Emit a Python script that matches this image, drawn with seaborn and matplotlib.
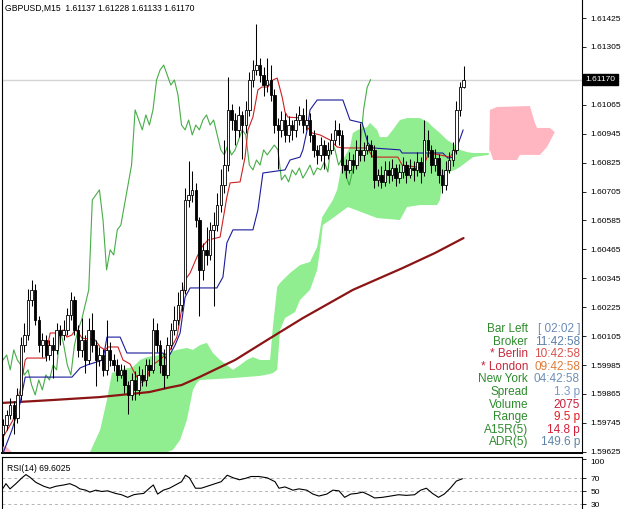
import numpy as np
import pandas as pd
import matplotlib
matplotlib.use("Agg")
import matplotlib.pyplot as plt
import matplotlib.transforms as mtransforms
import seaborn as sns

# ---------------- data ----------------
title_text = "GBPUSD,M15  1.61137 1.61228 1.61133 1.61170"
rsi_title = "RSI(14) 69.6025"
last_price = 1.61170
last_price_label = "1.61170"

opens = [1.59700, 1.59736, 1.59778, 1.59819, 1.59765, 1.59861, 1.60068, 1.60110, 1.60255, 1.60297,
         1.60172, 1.60068, 1.60089, 1.60027, 1.60068, 1.60048, 1.60131, 1.60110, 1.60131, 1.60193,
         1.60255, 1.60131, 1.60048, 1.60089, 1.60006, 1.60131, 1.60068, 1.60006, 1.60027, 1.59965,
         1.60048, 1.60006, 1.59985, 1.59944, 1.59965, 1.59902, 1.59861, 1.59923, 1.59882, 1.59944,
         1.59923, 1.59985, 1.59965, 1.60131, 1.60068, 1.59985, 1.59944, 1.60068, 1.60131, 1.60172,
         1.60234, 1.60297, 1.60670, 1.60691, 1.60712, 1.60587, 1.60380, 1.60463, 1.60442, 1.60546,
         1.60566, 1.60649, 1.60732, 1.60815, 1.61044, 1.61002, 1.60961, 1.61023, 1.60981, 1.61044,
         1.61168, 1.61210, 1.61230, 1.61189, 1.61147, 1.61168, 1.61106, 1.60981, 1.60961, 1.61002,
         1.60940, 1.60981, 1.60961, 1.61002, 1.61023, 1.60981, 1.61002, 1.60940, 1.60878, 1.60857,
         1.60898, 1.60857, 1.60878, 1.60919, 1.60961, 1.60940, 1.60815, 1.60795, 1.60836, 1.60815,
         1.60878, 1.60857, 1.60878, 1.60898, 1.60878, 1.60753, 1.60774, 1.60745, 1.60795, 1.60774,
         1.60803, 1.60761, 1.60786, 1.60815, 1.60774, 1.60803, 1.60795, 1.60828, 1.60786, 1.60919,
         1.60878, 1.60815, 1.60844, 1.60774, 1.60732, 1.60795, 1.60836, 1.60878, 1.61044, 1.61137]
highs = [1.59760, 1.59800, 1.59850, 1.59835, 1.59890, 1.60100, 1.60160, 1.60300, 1.60340, 1.60320,
         1.60190, 1.60120, 1.60110, 1.60090, 1.60100, 1.60160, 1.60150, 1.60170, 1.60220, 1.60290,
         1.60270, 1.60150, 1.60180, 1.60110, 1.60180, 1.60200, 1.60090, 1.60060, 1.60050, 1.60170,
         1.60080, 1.60030, 1.60010, 1.59990, 1.59985, 1.59920, 1.59950, 1.59960, 1.59980, 1.59970,
         1.60010, 1.60010, 1.60180, 1.60160, 1.60090, 1.60050, 1.60100, 1.60160, 1.60230, 1.60290,
         1.60330, 1.60720, 1.60830, 1.60790, 1.60740, 1.60600, 1.60490, 1.60560, 1.60580, 1.60620,
         1.60700, 1.60800, 1.60920, 1.61180, 1.61070, 1.61030, 1.61060, 1.61040, 1.61080, 1.61200,
         1.61250, 1.61400, 1.61260, 1.61220, 1.61260, 1.61230, 1.61130, 1.61010, 1.61040, 1.61030,
         1.61020, 1.61000, 1.61030, 1.61060, 1.61050, 1.61090, 1.61030, 1.60960, 1.60900, 1.60930,
         1.60920, 1.60910, 1.60950, 1.61000, 1.60990, 1.60960, 1.60840, 1.60870, 1.60860, 1.60920,
         1.60990, 1.60910, 1.60940, 1.60920, 1.60900, 1.60800, 1.60810, 1.60830, 1.60830, 1.60840,
         1.60820, 1.60820, 1.60850, 1.60830, 1.60840, 1.60830, 1.60870, 1.60850, 1.61000, 1.60960,
         1.60900, 1.60880, 1.60860, 1.60800, 1.60830, 1.60870, 1.60910, 1.61080, 1.61160, 1.61228]
lows = [1.59650, 1.59715, 1.59760, 1.59700, 1.59745, 1.59840, 1.60040, 1.60090, 1.60230, 1.60150,
        1.60040, 1.60020, 1.60000, 1.60005, 1.59930, 1.60030, 1.60070, 1.60090, 1.60110, 1.60170,
        1.60110, 1.60020, 1.60020, 1.59950, 1.59990, 1.60040, 1.59900, 1.59980, 1.59940, 1.59945,
        1.59980, 1.59960, 1.59920, 1.59930, 1.59870, 1.59780, 1.59840, 1.59840, 1.59860, 1.59900,
        1.59900, 1.59940, 1.59950, 1.60040, 1.59950, 1.59890, 1.59930, 1.60050, 1.60110, 1.60150,
        1.60210, 1.60280, 1.60640, 1.60660, 1.60560, 1.60190, 1.60340, 1.60400, 1.60420, 1.60230,
        1.60540, 1.60620, 1.60700, 1.60790, 1.60960, 1.60900, 1.60930, 1.60840, 1.60950, 1.61020,
        1.61140, 1.61190, 1.61160, 1.61100, 1.61120, 1.61080, 1.60950, 1.60800, 1.60930, 1.60910,
        1.60910, 1.60920, 1.60930, 1.60980, 1.60950, 1.60960, 1.60910, 1.60850, 1.60820, 1.60830,
        1.60800, 1.60840, 1.60860, 1.60900, 1.60900, 1.60780, 1.60760, 1.60780, 1.60780, 1.60800,
        1.60830, 1.60830, 1.60860, 1.60850, 1.60720, 1.60730, 1.60720, 1.60730, 1.60740, 1.60750,
        1.60730, 1.60740, 1.60760, 1.60740, 1.60760, 1.60750, 1.60770, 1.60740, 1.60770, 1.60850,
        1.60780, 1.60790, 1.60740, 1.60700, 1.60710, 1.60780, 1.60810, 1.60860, 1.61020, 1.61133]
closes = [1.59736, 1.59778, 1.59819, 1.59765, 1.59861, 1.60068, 1.60110, 1.60255, 1.60297, 1.60172,
          1.60068, 1.60089, 1.60027, 1.60068, 1.60048, 1.60131, 1.60110, 1.60131, 1.60193, 1.60255,
          1.60131, 1.60048, 1.60089, 1.60006, 1.60131, 1.60068, 1.60006, 1.60027, 1.59965, 1.60048,
          1.60006, 1.59985, 1.59944, 1.59965, 1.59902, 1.59861, 1.59923, 1.59882, 1.59944, 1.59923,
          1.59985, 1.59965, 1.60131, 1.60068, 1.59985, 1.59944, 1.60068, 1.60131, 1.60172, 1.60234,
          1.60297, 1.60670, 1.60691, 1.60712, 1.60587, 1.60380, 1.60463, 1.60442, 1.60546, 1.60566,
          1.60649, 1.60732, 1.60815, 1.61044, 1.61002, 1.60961, 1.61023, 1.60981, 1.61044, 1.61168,
          1.61210, 1.61230, 1.61189, 1.61147, 1.61168, 1.61106, 1.60981, 1.60961, 1.61002, 1.60940,
          1.60981, 1.60961, 1.61002, 1.61023, 1.60981, 1.61002, 1.60940, 1.60878, 1.60857, 1.60898,
          1.60857, 1.60878, 1.60919, 1.60961, 1.60940, 1.60815, 1.60795, 1.60836, 1.60815, 1.60878,
          1.60857, 1.60878, 1.60898, 1.60878, 1.60753, 1.60774, 1.60745, 1.60795, 1.60774, 1.60803,
          1.60761, 1.60786, 1.60815, 1.60774, 1.60803, 1.60795, 1.60828, 1.60786, 1.60919, 1.60878,
          1.60815, 1.60844, 1.60774, 1.60732, 1.60795, 1.60836, 1.60878, 1.61044, 1.61137, 1.61170]

chikou_shift = 26

ma_x = [0, 14, 27, 41, 46, 50, 55, 65, 74, 84, 98, 112, 121, 129]
ma_vals = [1.59828, 1.59840, 1.59852, 1.59873, 1.59890, 1.59902, 1.59935, 1.60006, 1.60089,
           1.60180, 1.60297, 1.60388, 1.60450, 1.60512]

tenkan_x = [0, 2.8, 3.9, 4.8, 6.2, 6.7, 11.8, 13.2, 14.6, 15.4, 16.8, 17.9, 19.3, 20.2, 21.0,
            22.1, 25.8, 27.2, 28.6, 29.4, 32.2, 33.6, 35.6, 36.4, 38.4, 40.3, 41.2, 43.1, 44.8,
            46.8, 48.7, 50.1, 51.0, 52.4, 54.3, 55.7, 57.4, 60.8, 62.7, 63.6, 66.4, 67.8, 68.6,
            70.0, 71.4, 72.5, 74.2, 75.6, 76.8, 78.2, 79.0, 79.8, 84.0, 85.2, 86.6, 88.8, 91.6,
            93.6, 95.2, 102.0, 103.6, 110.6, 111.8, 117.6, 118.8, 119.0, 122.4, 125.2, 127.2]
tenkan_vals = [1.59686, 1.59757, 1.59828, 1.59882, 1.60006, 1.60014, 1.60014, 1.60118, 1.60118,
               1.60097, 1.60131, 1.60101, 1.60110, 1.60131, 1.60122, 1.60097, 1.60089, 1.60060,
               1.60048, 1.60060, 1.60060, 1.60006, 1.59989, 1.59965, 1.59911, 1.59923, 1.59977,
               1.59998, 1.60018, 1.60048, 1.60101, 1.60222, 1.60338, 1.60367, 1.60433, 1.60475,
               1.60504, 1.60516, 1.60682, 1.60741, 1.60745, 1.60848, 1.60961, 1.61014, 1.61127,
               1.61139, 1.61139, 1.61168, 1.61176, 1.61097, 1.61035, 1.61014, 1.61010, 1.60973,
               1.60948, 1.60940, 1.60919, 1.60890, 1.60886, 1.60886, 1.60848, 1.60848, 1.60815,
               1.60803, 1.60848, 1.60865, 1.60857, 1.60848, 1.60890]

kijun_x = [0, 2.5, 4.8, 6.2, 19.3, 21.6, 23.5, 28.0, 29.1, 32.8, 34.7, 44.8, 45.9, 48.2, 49.6,
           51.0, 52.4, 59.9, 61.6, 62.7, 64.4, 70.0, 71.4, 72.8, 79.0, 80.4, 83.2, 84.0, 85.2,
           86.0, 88.0, 95.2, 96.4, 97.2, 100.6, 102.2, 103.6, 111.2, 111.8, 123.2, 124.6, 126.1,
           127.2, 128.9]
kijun_vals = [1.59620, 1.59716, 1.59828, 1.59935, 1.59935, 1.59973, 1.59985, 1.60006, 1.60101,
              1.60101, 1.60035, 1.60035, 1.60006, 1.60068, 1.60118, 1.60267, 1.60305, 1.60305,
              1.60350, 1.60492, 1.60546, 1.60546, 1.60629, 1.60782, 1.60795, 1.60836, 1.60848,
              1.60878, 1.60961, 1.61044, 1.61085, 1.61085, 1.61035, 1.61002, 1.60990, 1.60907,
              1.60886, 1.60878, 1.60865, 1.60865, 1.60844, 1.60848, 1.60890, 1.60961]

# Ichimoku cloud edges (bar index, price)
green_top_x = [23.8, 24.4, 27.2, 29.1, 30.5, 32.8, 36.4, 38.4, 40.3, 44.0, 45.9, 48.7, 51.5, 53.2,
               55.2, 57.1, 58.8, 60.8, 62.7, 64.4, 66.4, 68.3, 70.0, 72.0, 74.8, 75.6, 76.8, 77.6,
               80.4, 83.2, 86.0, 88.0, 89.4, 92.4, 93.6, 95.2, 97.2, 98.0, 99.4, 102.0, 102.8,
               104.8, 105.6, 107.6, 109.2, 111.2, 113.2, 116.8, 119.0, 120.4, 122.4, 124.4, 126.6,
               128.0, 130.0, 131.7, 135.9, 136.2]
green_top = [1.59560, 1.59625, 1.59716, 1.59840, 1.59952, 1.59965, 1.59977, 1.60006, 1.60018,
             1.60027, 1.60035, 1.60048, 1.60056, 1.60048, 1.60068, 1.60077, 1.60035, 1.60006,
             1.59985, 1.59965, 1.59985, 1.60006, 1.60018, 1.60006, 1.60006, 1.60143, 1.60309,
             1.60326, 1.60367, 1.60400, 1.60413, 1.60475, 1.60599, 1.60670, 1.60712, 1.60836,
             1.60890, 1.60948, 1.60961, 1.60973, 1.60990, 1.60961, 1.60931, 1.60931, 1.60961,
             1.61002, 1.61010, 1.61010, 1.60994, 1.60973, 1.60948, 1.60919, 1.60898, 1.60878,
             1.60869, 1.60865, 1.60865, 1.60862]
green_bot_x = [23.8, 43.0, 44.0, 47.6, 49.6, 51.5, 53.2, 54.3, 55.2, 64.4, 72.0, 74.8, 75.6, 76.8,
               77.6, 79.0, 81.8, 83.2, 86.0, 88.0, 88.8, 89.6, 92.4, 96.6, 104.8, 111.2, 113.2,
               116.8, 121.6, 122.4, 123.2, 124.4, 126.6, 128.0, 131.7, 135.9, 136.2]
green_bot = [1.59550, 1.59550, 1.59612, 1.59633, 1.59674, 1.59757, 1.59882, 1.59911, 1.59923,
             1.59931, 1.59940, 1.59948, 1.59952, 1.59965, 1.60131, 1.60180, 1.60205, 1.60255,
             1.60297, 1.60380, 1.60463, 1.60566, 1.60595, 1.60641, 1.60595, 1.60587, 1.60641,
             1.60649, 1.60649, 1.60670, 1.60753, 1.60782, 1.60795, 1.60807, 1.60848, 1.60857,
             1.60862]
pink_left_top_x = [-1.0, 1.0, 2.5, 23.8]
pink_left_top = [1.59653, 1.59645, 1.59624, 1.59622]
pink_left_bot_x = [-1.0, 23.8]
pink_left_bot = [1.59500, 1.59500]
pink_right_top_x = [136.2, 136.4, 138.4, 147.6, 149.0, 149.6, 153.2, 154.6]
pink_right_top = [1.60862, 1.61044, 1.61056, 1.61060, 1.60990, 1.60969, 1.60969, 1.60952]
pink_right_bot_x = [136.2, 136.4, 137.3, 144.0, 144.8, 150.4, 152.4, 154.6]
pink_right_bot = [1.60862, 1.60878, 1.60836, 1.60836, 1.60857, 1.60857, 1.60890, 1.60952]

rsi_x = [0, 0.8, 1.95, 3.6, 5.3, 6.4, 7.5, 9.2, 11.4, 13.1, 14.8, 17.0, 18.7, 20.4, 21.5, 23.2,
         24.3, 26.0, 27.6, 29.3, 31.5, 33.2, 34.9, 36.6, 37.7, 39.4, 41.0, 42.1, 43.3, 44.9, 46.6,
         48.3, 50.0, 51.1, 52.2, 53.9, 55.5, 57.2, 59.4, 61.1, 62.8, 64.5, 66.2, 67.8, 69.5,
         71.7, 74.0, 76.2, 77.3, 79.0, 81.2, 82.9, 85.1, 86.8, 88.5, 90.7, 92.4, 94.1, 95.7,
         97.4, 99.1, 100.8, 102.4, 104.1, 106.3, 108.6, 110.8, 113.0, 115.3, 117.0, 118.6,
         120.3, 122.0, 123.6, 125.3, 127.0, 128.7]
rsi_vals = [55, 62, 54, 62, 71, 76, 72, 64, 58, 55, 58, 60, 62, 58, 54, 52, 49, 52, 50, 51, 47,
            45, 41, 45, 46, 47, 55, 60, 46, 52, 55, 60, 65, 75, 71, 55, 55, 58, 62, 65, 75, 71,
            68, 70, 73, 73, 71, 65, 55, 57, 52, 54, 52, 46, 43, 46, 52, 51, 41, 46, 47, 49, 45,
            40, 41, 43, 45, 44, 45, 52, 55, 47, 41, 46, 55, 66, 69.6]

# right-axis price labels (1.61185 sits under the current-price box, so only its tick is drawn)
price_ticks = [1.61425, 1.61305, 1.61185, 1.61065, 1.60945, 1.60825, 1.60705, 1.60585, 1.60465,
               1.60345, 1.60225, 1.60105, 1.59985, 1.59865, 1.59745, 1.59625]
hidden_price_tick = 1.61185
rsi_ticks = [100, 70, 50, 30]
rsi_levels = [70, 50, 30]

info_labels = ["Bar Left", "Broker", "* Berlin", "* London", "New York", "Spread", "Volume",
               "Range", "A15R(5)", "ADR(5)"]
info_values = ["[ 02:02 ]", "11:42:58", "10:42:58", "09:42:58", "04:42:58", "1.3 p", "2075",
               "9.5 p", "14.8 p", "149.6 p"]
label_colors = ["#2e8b2e", "#2e8b2e", "#c8283c", "#c8283c", "#2e8b2e", "#2e8b2e", "#2e8b2e",
                "#2e8b2e", "#2e8b2e", "#2e8b2e"]
value_colors = ["#6b8cba", "#5b7fa6", "#d9534f", "#e07b39", "#6f8fb3", "#7b98c8", "#c4213d",
                "#e41b1b", "#d11f3c", "#5d84a8"]

# ---------------- style ----------------
sns.set_style("white")
plt.rcParams["font.family"] = ["Liberation Sans", "DejaVu Sans"]

W, H = 625, 509
fig = plt.figure(figsize=(W / 100, H / 100), dpi=100)
fig.patch.set_facecolor("white")


def px_rect(x0, y0, x1, y1):
    return [x0 / W, 1 - y1 / H, (x1 - x0) / W, (y1 - y0) / H]


ax = fig.add_axes(px_rect(2, 0, 582, 453))
ax2 = fig.add_axes(px_rect(2, 457, 582, 524))

xmin, xmax = -0.3, 162.2

# cloud
ax.fill(green_top_x + green_bot_x[::-1], green_top + green_bot[::-1],
        color="#90EE90", lw=0, zorder=1)
ax.fill(pink_left_top_x + pink_left_bot_x[::-1], pink_left_top + pink_left_bot[::-1],
        color="#FFB6C1", lw=0, zorder=1)
ax.fill(pink_right_top_x + pink_right_bot_x[::-1], pink_right_top + pink_right_bot[::-1],
        color="#FFB6C1", lw=0, zorder=1)

# current price line
ax.axhline(last_price, color="#d4d4d4", lw=1.0, zorder=0.5)

# lines via seaborn
n = len(closes)
idx = np.arange(n)
sns.lineplot(x=ma_x, y=ma_vals, ax=ax, color="#8b1414", lw=1.6, estimator=None, sort=False,
             legend=False, zorder=2)
sns.lineplot(x=list(idx - chikou_shift), y=closes, ax=ax, color="#46ad46", lw=0.8,
             estimator=None, sort=False, legend=False, zorder=2)
sns.lineplot(x=kijun_x, y=kijun_vals, ax=ax, color="#1c1c9c", lw=0.8, estimator=None,
             sort=False, legend=False, zorder=3)
sns.lineplot(x=tenkan_x, y=tenkan_vals, ax=ax, color="#cc2222", lw=0.8, estimator=None,
             sort=False, legend=False, zorder=3)

# candles
df = pd.DataFrame({"o": opens, "h": highs, "l": lows, "c": closes}, index=idx)
ax.vlines(df.index, df["l"], df["h"], color="black", lw=0.75, zorder=4)
bull = df["c"] >= df["o"]
body_bottom = np.minimum(df["o"], df["c"])
body_h = np.maximum((df["c"] - df["o"]).abs(), 0.00003)
ax.bar(df.index[bull], body_h[bull], bottom=body_bottom[bull], width=0.7, color="white",
       edgecolor="black", lw=0.6, zorder=5)
ax.bar(df.index[~bull], body_h[~bull], bottom=body_bottom[~bull], width=0.7, color="black",
       edgecolor="black", lw=0.6, zorder=5)

ax.set_xlim(xmin, xmax)
ax.set_ylim(1.59620, 1.61500)
ax.set_xlabel("")
ax.set_ylabel("")
ax.set_xticks([])
ax.yaxis.tick_right()
ax.set_yticks(price_ticks)
ax.set_yticklabels(["" if abs(t - hidden_price_tick) < 1e-9 else f"{t:.5f}" for t in price_ticks])
ax.tick_params(axis="y", direction="out", length=3, width=0.6, labelsize=6, pad=3,
               colors="black", right=True, left=False)
for side in ["left", "right", "bottom"]:
    ax.spines[side].set_visible(True)
    ax.spines[side].set_color("black")
    ax.spines[side].set_linewidth(0.8)
ax.spines["top"].set_visible(False)
ax.spines["bottom"].set_linewidth(1.4)

trans = mtransforms.blended_transform_factory(ax.transAxes, ax.transData)
ax.text(1.006, last_price, last_price_label, transform=trans, ha="left", va="center",
        fontsize=6, color="white", zorder=10, clip_on=False,
        bbox=dict(boxstyle="square,pad=0.25", fc="black", ec="black"))

fig.text(5 / W, 1 - 8 / H, title_text, fontsize=6.2, color="black", ha="left", va="center")

# RSI panel
sns.lineplot(x=rsi_x, y=rsi_vals, ax=ax2, color="black", lw=0.8, estimator=None, sort=False,
             legend=False)
for lv in rsi_levels:
    ax2.axhline(lv, color="#b4b4b4", lw=0.7, ls=(0, (3, 3)), zorder=0.5)
ax2.set_xlim(xmin, xmax)
ax2.set_ylim(0, 103)
ax2.set_xlabel("")
ax2.set_ylabel("")
ax2.set_xticks([])
ax2.yaxis.tick_right()
ax2.set_yticks(rsi_ticks)
ax2.set_yticklabels([str(t) for t in rsi_ticks])
ax2.tick_params(axis="y", direction="out", length=3, width=0.6, labelsize=6, pad=3,
                colors="black", right=True, left=False)
for lab in ax2.get_yticklabels():
    if lab.get_text() == "100":
        lab.set_va("top")
for side in ["left", "right", "bottom", "top"]:
    ax2.spines[side].set_visible(True)
    ax2.spines[side].set_color("black")
    ax2.spines[side].set_linewidth(0.8)
ax2.text(5 / 580, 1 - 11 / 67, rsi_title, transform=ax2.transAxes, fontsize=6.2,
         color="black", ha="left", va="center")

# info panel
for k, (lab, val, lc, vc) in enumerate(zip(info_labels, info_values, label_colors, value_colors)):
    ypx = 329 + k * 12.6
    fig.text(528 / W, 1 - ypx / H, lab, fontsize=8.5, color=lc, ha="right", va="center")
    fig.text(580 / W, 1 - ypx / H, val, fontsize=8.5, color=vc, ha="right", va="center")

fig.savefig("out.png", dpi=100)
